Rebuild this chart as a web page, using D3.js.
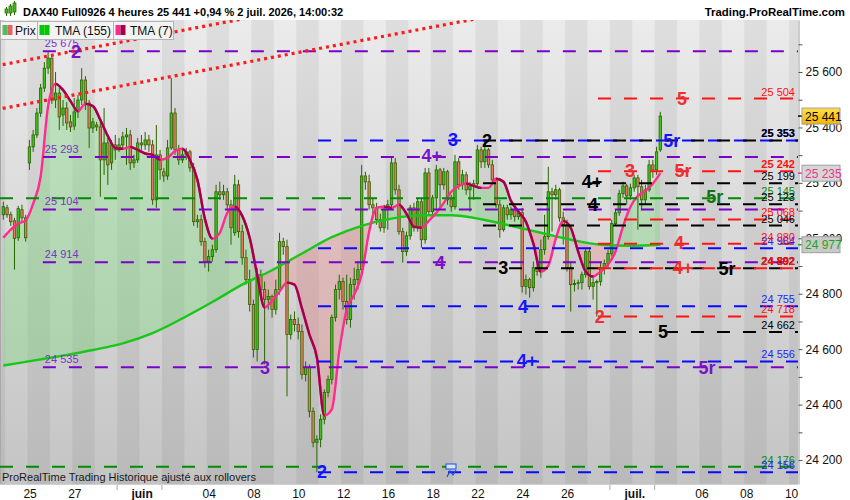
<!DOCTYPE html>
<html>
<head>
<meta charset="utf-8">
<script src="https://cdn.jsdelivr.net/npm/d3@7"></script>
<style>
body { margin: 0; background: #fff; }
svg { display: block; font-family: "Liberation Sans", Arial, sans-serif; }
</style>
</head>
<body>
<script>
// 4h candles, DAX40 Full0926 (index 0 = first visible candle)
const opens = [
 25085,25110,25085,25063,25002,25103,25074,25272,25330,25373,
 25452,25542,25614,25650,25499,25524,25445,25470,25420,25405,
 25456,25499,25571,25488,25398,25409,25402,25283,25344,25272,
 25337,25319,25337,25366,25373,25272,25283,25344,25337,25355,
 25337,25139,25301,25240,25225,25326,25452,25319,25283,25301,
 25312,25254,25060,25067,24988,24916,24934,24959,25168,25157,
 25168,25121,25020,25193,25024,24930,24851,24761,24599,24869,
 24815,24779,24790,24743,24815,24988,24970,24653,24707,24689,
 24664,24509,24534,24376,24264,24275,24347,24444,24491,24714,
 24815,24844,24772,24707,24833,24851,24887,25225,25204,25121,
 25110,25067,25038,25103,25121,25272,25175,25024,24952,25009,
 25110,25038,25132,24995,25236,25096,25146,25247,25193,25240,
 25139,25114,25276,25193,25229,25175,25189,25197,25319,25276,
 25319,25265,25211,25121,25031,25110,25085,25103,25078,25092,
 24826,24851,24822,24894,24880,24959,25006,25168,25157,25175,
 25074,25049,24894,24833,24837,24840,24869,24952,24826,24840,
 24844,24894,24909,24945,25053,25092,25161,25189,25153,25182,
 25218,25186,25139,25175,25265,25247,25319];
const highs = [
 25132,25121,25096,25074,25117,25121,25085,25355,25391,25470,
 25557,25636,25675,25661,25600,25542,25499,25492,25445,25506,
 25517,25614,25585,25499,25434,25420,25427,25470,25362,25355,
 25373,25362,25384,25398,25391,25301,25362,25373,25384,25373,
 25355,25409,25319,25254,25355,25578,25470,25337,25319,25326,
 25319,25272,25085,25085,25002,24959,24977,25193,25204,25193,
 25182,25139,25229,25211,25049,24959,24887,24779,24894,24887,
 24844,24815,24797,24851,25020,25002,24995,24725,24736,24714,
 24689,24556,24545,24390,24289,24365,24455,24505,24725,24833,
 24869,24858,24869,24858,24894,24916,25265,25240,25229,25146,
 25128,25089,25121,25139,25294,25290,25193,25038,25024,25121,
 25128,25146,25146,25254,25254,25157,25265,25254,25254,25247,
 25157,25301,25290,25247,25240,25204,25211,25337,25330,25353,
 25326,25283,25218,25139,25121,25121,25114,25121,25103,25110,
 24869,24858,24916,24923,24995,25085,25258,25182,25193,25182,
 25096,25067,24916,24851,24851,24880,24966,24966,24858,24851,
 24916,24923,24959,25067,25103,25175,25204,25197,25197,25229,
 25229,25211,25193,25283,25283,25330,25456];
const lows = [
 25067,25074,25045,24887,24991,25056,24988,25247,25312,25362,
 25438,25528,25593,25485,25470,25391,25405,25391,25384,25391,
 25434,25481,25463,25326,25380,25387,25150,25229,25193,25247,
 25283,25312,25319,25265,25247,25254,25272,25319,25319,25312,
 25121,25110,25211,25204,25211,25319,25301,25265,25272,25283,
 25240,25045,25038,24973,24894,24880,24916,24948,25139,25139,
 25103,24977,25009,25002,24905,24833,24736,24570,24556,24779,
 24545,24743,24714,24725,24797,24941,24430,24635,24664,24635,
 24491,24484,24354,24246,24156,24246,24329,24426,24473,24700,
 24779,24743,24689,24678,24779,24815,24869,25175,25103,25085,
 25049,25024,25020,25031,25110,25157,25013,24912,24937,24995,
 25024,25024,24966,24981,25085,25074,25103,25110,25175,25121,
 25096,25103,25175,25175,25157,25096,25139,25182,25254,25254,
 25254,25197,25110,25002,25024,25067,25067,25060,25067,24804,
 24797,24786,24808,24865,24858,24941,24995,25024,25139,25060,
 24977,24880,24736,24808,24815,24815,24858,24815,24779,24718,
 24829,24869,24894,24934,25045,25081,25146,25121,25139,25168,
 25031,25103,25121,25168,25218,25229,25312];
const closes = [
 25114,25085,25060,24999,25107,25074,25002,25330,25373,25452,
 25542,25614,25650,25499,25524,25438,25470,25416,25402,25456,
 25499,25571,25488,25398,25420,25402,25283,25344,25265,25337,
 25319,25337,25366,25373,25272,25283,25344,25337,25355,25337,
 25139,25301,25247,25225,25326,25452,25319,25283,25301,25312,
 25254,25060,25067,24988,24916,24934,24959,25168,25157,25168,
 25121,25038,25193,25024,24930,24851,24761,24599,24869,24815,
 24779,24790,24743,24815,24988,24970,24653,24707,24689,24664,
 24509,24534,24376,24264,24275,24347,24444,24491,24714,24815,
 24844,24772,24707,24833,24851,24887,25225,25204,25121,25110,
 25067,25038,25103,25121,25272,25175,25024,24952,25009,25110,
 25038,25132,24995,25236,25096,25146,25247,25193,25240,25139,
 25114,25276,25193,25229,25175,25189,25197,25319,25276,25319,
 25265,25211,25121,25031,25110,25085,25103,25078,25092,24826,
 24851,24822,24894,24880,24959,25006,25168,25157,25175,25074,
 25049,24894,24833,24837,24840,24869,24952,24826,24840,24844,
 24894,24909,24945,25053,25092,25161,25189,25153,25182,25218,
 25186,25139,25175,25265,25247,25312,25441];

// TMA(7) read every 2 candles, TMA(155) read every 8 candles
const tmaShort = [
 25002,25031,25053,25065,25125,25222,25477,25557,25535,25495,
 25459,25485,25477,25427,25369,25326,25323,25330,25319,25306,
 25301,25283,25290,25315,25323,25283,25211,25071,24999,25020,
 25092,25114,25081,25002,24869,24750,24775,24808,24840,24833,
 24747,24653,24570,24361,24383,24592,24743,24797,24869,25024,
 25110,25114,25110,25121,25089,25042,25038,25063,25092,25128,
 25168,25189,25198,25189,25182,25182,25215,25204,25135,25096,
 25060,24981,24880,24901,24999,25063,25038,24952,24880,24862,
 24880,24905,24952,25042,25114,25153,25171,25197,25235];
const tmaLong = [24541,24559,24577,24597,24621,24658,24711,24770,24833,24885,24945,
 25004,25045,25071,25083,25083,25069,25045,25020,24995,24977,24973,24977];

// x axis: days (6 candles a day), first label = day 0
const dayLabels = ["25","27","juin","04","08","10","12","16","18","22","24","26","juil.","06","08","10"];
const dayOffsets = [0,2,5,8,10,12,14,16,18,20,22,24,27,30,32,34];
const monthSeps = [4,6,26,28];

// horizontal levels
const purpleLevels = [25675, 25293, 25104, 24914, 24535];
const greenLevels = [25145, 24176];
const blueLevels = [25353, 24964, 24755, 24556, 24156];
const blackLevels = [25353, 25199, 25123, 25046, 24892, 24662];
const redLevels = [25504, 25242, 25068, 24980, 24892, 24718];
const boldLevels = [25353, 25242, 24892];

// tags on levels: [text, candle index, level]
const purpleTags = [["2",19.5,25675],["4+",114.8,25300],["4",117,24914],["3",70.1,24535],["5r",188.5,24535]];
const blueTags = [["3",120.5,25358],["5r",179.1,25353],["4",139.2,24755],["4+",140.3,24560],["2",85.4,24160]];
const blackTags = [["2",129.6,25353],["4+",157.7,25205],["4",158,25123],["3",133.9,24895],["5r",193.9,24892],["5",176.7,24662]];
const redTags = [["5",181.8,25504],["3",167.9,25245],["5r",182.1,25245],["4",181,24985],["4+",182.1,24895],["2",159.8,24718]];
const greenTags = [["5r",190.6,25152]];

// red dotted channel: [index, value] pairs
const trendUpper = [[0, 25627], [60, 25781]];
const trendLower = [[0, 25469], [120, 25775]];

const W = 850, H = 500;
const plot = {left: 0, right: 798, top: 20, bottom: 484};

const svg = d3.select("body").append("svg").attr("width", W).attr("height", H);

const x = d3.scaleLinear().domain([0, 176]).range([3.3, 660.3]);
const y = d3.scaleLinear().domain([24113.7, 25787.6]).range([plot.bottom, plot.top]);

const defs = svg.append("defs");
const bg = defs.append("linearGradient").attr("id", "bg")
  .attr("x1", 0).attr("x2", 0).attr("y1", 0).attr("y2", 1);
bg.append("stop").attr("offset", "0%").attr("stop-color", "#ebebeb");
bg.append("stop").attr("offset", "100%").attr("stop-color", "#c4c4c4");
const gold = defs.append("linearGradient").attr("id", "gold")
  .attr("x1", 0).attr("x2", 0).attr("y1", 0).attr("y2", 1);
gold.append("stop").attr("offset", "0%").attr("stop-color", "#ffe14a");
gold.append("stop").attr("offset", "100%").attr("stop-color", "#f2b300");

defs.append("clipPath").attr("id", "plotClip").append("rect")
  .attr("x", plot.left).attr("y", plot.top)
  .attr("width", plot.right - plot.left).attr("height", plot.bottom - plot.top);

const g = svg.append("g").attr("clip-path", "url(#plotClip)");

// background + day stripes
g.append("rect").attr("x", plot.left).attr("y", plot.top)
  .attr("width", plot.right - plot.left).attr("height", plot.bottom - plot.top)
  .attr("fill", "url(#bg)");
const dayStart = d => 6.5 + 6 * d;
g.selectAll("rect.stripe").data(d3.range(-2, 36).filter(d => d % 2 === 0)).join("rect")
  .attr("class", "stripe")
  .attr("x", d => x(dayStart(d)))
  .attr("width", x(dayStart(1)) - x(dayStart(0)))
  .attr("y", plot.top).attr("height", plot.bottom - plot.top)
  .attr("fill", "#000").attr("opacity", 0.055);
g.append("line").attr("x1", 0.5).attr("x2", 0.5).attr("y1", plot.top).attr("y2", plot.bottom)
  .attr("stroke", "#a8a8a8");

// fill between TMA(7) and TMA(155)
const sIdx = tmaShort.map((d, k) => k * 2);
const lIdx = tmaLong.map((d, k) => k * 8);
const curve = d3.curveMonotoneX;
defs.append("clipPath").attr("id", "aboveLong").append("path")
  .attr("d", d3.area().x((d, k) => x(lIdx[k])).y0(plot.top).y1(d => y(d)).curve(curve)(tmaLong));
defs.append("clipPath").attr("id", "belowLong").append("path")
  .attr("d", d3.area().x((d, k) => x(lIdx[k])).y0(plot.bottom).y1(d => y(d)).curve(curve)(tmaLong));
g.append("path")
  .attr("d", d3.area().x((d, k) => x(sIdx[k])).y0(plot.bottom).y1(d => y(d)).curve(curve)(tmaShort))
  .attr("fill", "rgb(110,215,110)").attr("opacity", 0.33)
  .attr("clip-path", "url(#aboveLong)");
g.append("path")
  .attr("d", d3.area().x((d, k) => x(sIdx[k])).y0(plot.top).y1(d => y(d)).curve(curve)(tmaShort))
  .attr("fill", "rgb(240,120,120)").attr("opacity", 0.3)
  .attr("clip-path", "url(#belowLong)");

// candles
const bodyW = 2.4;
g.selectAll("line.wick").data(closes).join("line")
  .attr("class", "wick")
  .attr("x1", (d, i) => x(i)).attr("x2", (d, i) => x(i))
  .attr("y1", (d, i) => y(highs[i])).attr("y2", (d, i) => y(lows[i]))
  .attr("stroke", "#2a6400").attr("stroke-width", 1);
g.selectAll("rect.body").data(closes).join("rect")
  .attr("class", "body")
  .attr("x", (d, i) => x(i) - bodyW / 2).attr("width", bodyW)
  .attr("y", (d, i) => y(Math.max(d, opens[i])))
  .attr("height", (d, i) => Math.max(0.8, Math.abs(y(opens[i]) - y(d))))
  .attr("fill", (d, i) => d >= opens[i] ? "#3cc21c" : "#ea7860")
  .attr("stroke", "#2a6400").attr("stroke-width", 0.8);

// TMA(155)
g.append("path")
  .attr("d", d3.line().x((d, k) => x(lIdx[k])).y(d => y(d)).curve(curve)(tmaLong))
  .attr("fill", "none").attr("stroke", "#19c719").attr("stroke-width", 2.4);

// TMA(7): pink when rising, dark red when falling
const shortLine = d3.line().x((d, k) => x(sIdx[k])).y(d => y(d)).curve(curve)(tmaShort);
g.append("path").attr("d", shortLine)
  .attr("fill", "none").attr("stroke", "#ff2b8e").attr("stroke-width", 2.4);
const fallClip = defs.append("clipPath").attr("id", "falling");
for (let k = 0; k < tmaShort.length - 1; k++) {
  if (tmaShort[k + 1] < tmaShort[k]) {
    fallClip.append("rect")
      .attr("x", x(sIdx[k])).attr("width", x(sIdx[k + 1]) - x(sIdx[k]) + 0.3)
      .attr("y", plot.top).attr("height", plot.bottom - plot.top);
  }
}
g.append("path").attr("d", shortLine).attr("clip-path", "url(#falling)")
  .attr("fill", "none").attr("stroke", "#a3004c").attr("stroke-width", 2.4);

// level lines
const families = [
  {levels: greenLevels, start: -2, color: "#008a00", tagColor: "#127312", tags: greenTags, txt: "#0b8a0b"},
  {levels: purpleLevels, start: 10.6, color: "#7b00cc", tagColor: "#7a12c8", tags: purpleTags, txt: "#7a35c0"},
  {levels: blueLevels, start: 84.3, color: "#0a0aff", tagColor: "#1414ff", tags: blueTags, txt: "#2424ff"},
  {levels: blackLevels, start: 128.5, color: "#000", tagColor: "#000", tags: blackTags, txt: "#000"},
  {levels: redLevels, start: 159.3, color: "#ff1414", tagColor: "#ee3030", tags: redTags, txt: "#ff1010"}
];
families.forEach(f => {
  g.selectAll(null).data(f.levels).join("line")
    .attr("x1", Math.max(plot.left, x(f.start))).attr("x2", plot.right)
    .attr("y1", d => y(d)).attr("y2", d => y(d))
    .attr("stroke", f.color).attr("stroke-width", 2)
    .attr("stroke-dasharray", "13 13");
});

// red dotted channel lines
[trendUpper, trendLower].forEach(t => {
  const slope = (t[1][1] - t[0][1]) / (t[1][0] - t[0][0]);
  const i0 = -2, i1 = 260;
  g.append("line")
    .attr("x1", x(i0)).attr("y1", y(t[0][1] + slope * (i0 - t[0][0])))
    .attr("x2", x(i1)).attr("y2", y(t[0][1] + slope * (i1 - t[0][0])))
    .attr("stroke", "#ff1a1a").attr("stroke-width", 3.2)
    .attr("stroke-dasharray", "3 4");
});

// level value texts
const fmt = v => d3.format(",")(v).replace(/,/g, " ");
g.selectAll("text.plv").data(purpleLevels).join("text")
  .attr("class", "plv")
  .attr("x", x(10.6) + 2).attr("y", d => y(d) - 4)
  .attr("font-size", 11).attr("fill", "#7a35c0")
  .text(d => fmt(d));
families.filter(f => f.levels !== purpleLevels).forEach(f => {
  g.selectAll(null).data(f.levels).join("text")
    .attr("x", plot.right - 3).attr("y", d => y(d) - 3)
    .attr("text-anchor", "end").attr("font-size", 11)
    .attr("font-weight", d => boldLevels.includes(d) ? "bold" : "normal")
    .attr("fill", f.txt).text(d => fmt(d));
});

// tags
families.forEach(f => {
  g.selectAll(null).data(f.tags).join("text")
    .attr("x", d => x(d[1])).attr("y", d => y(d[2]))
    .attr("dy", "0.36em").attr("text-anchor", "middle")
    .attr("font-size", 18).attr("font-weight", "bold")
    .attr("fill", f.tagColor).text(d => d[0]);
});

// right axis
const yAxis = d3.axisRight(y).tickValues(d3.range(24200, 25701, 100))
  .tickSize(4).tickSizeOuter(0).tickPadding(3)
  .tickFormat(v => v % 200 === 0 ? fmt(v) : "");
const ya = svg.append("g").attr("transform", `translate(${plot.right + 0.5},0)`).call(yAxis);
ya.select(".domain").attr("stroke", "#9a9a9a");
ya.selectAll(".tick line").attr("stroke", "#555");
ya.selectAll("text").attr("font-size", 12).attr("fill", "#111")
  .attr("font-family", "Liberation Sans, Arial, sans-serif");

// current value boxes
const lastClose = closes[closes.length - 1];
const boxes = [
  [tmaLong[tmaLong.length - 1], "#c9c9c9", "#1aa51a", "#1aa51a"],
  [tmaShort[tmaShort.length - 1], "#d6d6d6", "#e8378a", "#e8378a"],
  [lastClose, "url(#gold)", "#000", "#000"]
];
boxes.forEach(b => {
  const yy = y(b[0]);
  svg.append("line").attr("x1", plot.right).attr("x2", plot.right + 5)
    .attr("y1", yy).attr("y2", yy).attr("stroke", b[3]).attr("stroke-width", 1.5);
  svg.append("rect").attr("x", 802).attr("y", yy - 8).attr("width", 38).attr("height", 16)
    .attr("fill", b[1]).attr("stroke", "#a0a0a0").attr("stroke-width", 1);
  svg.append("text").attr("x", 805).attr("y", yy + 4.5).attr("font-size", 12)
    .attr("fill", b[2]).text(fmt(b[0]));
});

// x axis
const xAxis = d3.axisBottom(x)
  .tickValues(dayOffsets.map(dayStart))
  .tickFormat((v, k) => dayLabels[k])
  .tickSize(0).tickPadding(5);
const xa = svg.append("g").attr("transform", `translate(0,${plot.bottom})`).call(xAxis);
xa.select(".domain").remove();
xa.selectAll("text").attr("font-size", 12).attr("fill", "#111").attr("dx", 2)
  .attr("font-family", "Liberation Sans, Arial, sans-serif")
  .attr("font-weight", (d, k) => /[a-z]/.test(dayLabels[k]) ? "bold" : "normal");
svg.selectAll("line.msep").data(monthSeps).join("line")
  .attr("class", "msep")
  .attr("x1", d => x(dayStart(d))).attr("x2", d => x(dayStart(d)))
  .attr("y1", plot.bottom).attr("y2", plot.bottom + 6)
  .attr("stroke", "#aaa");
svg.append("line").attr("x1", 0).attr("x2", plot.right).attr("y1", plot.bottom + 0.5).attr("y2", plot.bottom + 0.5)
  .attr("stroke", "#d0d0d0");

// header
const icon = svg.append("g");
[[5, 9, 14, 4], [9, 6, 12, 7], [13, 3, 10, 9]].forEach(c => {
  icon.append("line").attr("x1", c[0] + 1.5).attr("x2", c[0] + 1.5).attr("y1", c[1] - 2).attr("y2", c[1] + c[3] + 3)
    .attr("stroke", "#2a6400");
  icon.append("rect").attr("x", c[0]).attr("y", c[1]).attr("width", 3).attr("height", c[3])
    .attr("fill", "#3cc21c").attr("stroke", "#2a6400").attr("stroke-width", 0.7);
});
svg.append("text").attr("x", 23).attr("y", 15.5).attr("font-size", 11).attr("font-weight", "bold")
  .attr("fill", "#000").text("DAX40 Full0926 4 heures 25 441 +0,94 % 2 juil. 2026, 14:00:32");
svg.append("text").attr("x", 845).attr("y", 15.5).attr("text-anchor", "end")
  .attr("font-size", 11.4).attr("font-weight", "bold").attr("fill", "#000")
  .text("Trading.ProRealTime.com");

// legend
const legend = [
  {x: 0, w: 37, label: "Prix", cols: ["#5cb85c", "#e06666"], tx: 15},
  {x: 37, w: 76, label: "TMA (155)", cols: ["#00c800", "#00c800"], tx: 18},
  {x: 113, w: 60, label: "TMA (7)", cols: ["#ff2b8e", "#a3004c"], tx: 17}
];
legend.forEach(l => {
  svg.append("rect").attr("x", l.x + 0.5).attr("y", 21.5).attr("width", l.w).attr("height", 18)
    .attr("fill", "#f3f3f3").attr("stroke", "#b4b4b4");
  svg.append("rect").attr("x", l.x + 2.5).attr("y", 25).attr("width", 5).attr("height", 10).attr("fill", l.cols[0]);
  svg.append("rect").attr("x", l.x + 7.5).attr("y", 25).attr("width", 5).attr("height", 10).attr("fill", l.cols[1]);
  svg.append("text").attr("x", l.x + l.tx).attr("y", 34.5).attr("font-size", 12).attr("fill", "#111").text(l.label);
});

// footer
svg.append("text").attr("x", 2).attr("y", 481).attr("font-size", 11).attr("fill", "#1a1a1a")
  .text("ProRealTime Trading  Historique ajusté aux rollovers");
const cal = svg.append("g").attr("transform", "translate(446,464)");
cal.append("rect").attr("width", 10).attr("height", 5).attr("fill", "#d8e4ff").attr("stroke", "#1f4fd8");
cal.append("path").attr("d", "M1,13 L4,7 L7,11 L10,6").attr("fill", "none").attr("stroke", "#1f4fd8").attr("stroke-width", 1.2);
</script>
</body>
</html>
